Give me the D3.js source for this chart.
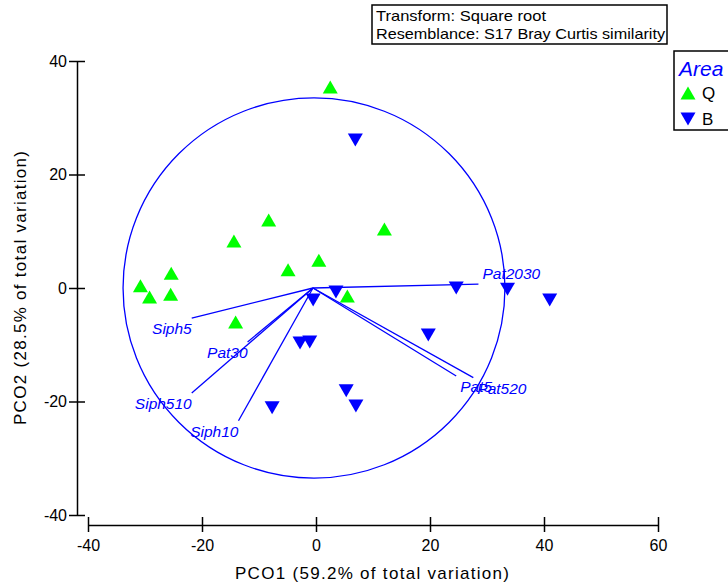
<!DOCTYPE html>
<html>
<head>
<meta charset="utf-8">
<script src="https://cdn.jsdelivr.net/npm/d3@7"></script>
<style>
  body { margin: 0; background: white; }
  svg { font-family: "Liberation Sans", Arial, sans-serif; }
</style>
</head>
<body>
<div id="chart"></div>
<script>
// group Q (green, up triangles)
var qX = [2.5, -8.3, -14.4, 12.0, 0.5, -4.9, -25.4, -30.8, -29.2, -25.5, -14.1, 5.5];
var qY = [35.4, 12.0, 8.3, 10.4, 4.9, 3.2, 2.6, 0.4, -1.6, -1.1, -6.0, -1.4];
// group B (blue, down triangles)
var bX = [6.9, -0.5, 3.5, 24.6, 33.6, 41.0, 19.7, -2.8, -1.1, 5.3, 7.0, -7.7];
var bY = [26.1, -2.1, -0.7, 0.0, -0.2, -2.1, -8.3, -9.7, -9.5, -18.1, -20.8, -21.1];
// vector overlay
var vecNames = ['Pat2030', 'Pat5', 'Pat520', 'Siph5', 'Pat30', 'Siph510', 'Siph10'];
var vecX = [28.5, 24.6, 27.6, -21.8, -12.0, -21.8, -13.6];
var vecY = [0.7, -15.5, -15.8, -5.3, -9.5, -18.5, -23.4];
var circleR = 33.5;
var xTicks = [-40, -20, 0, 20, 40, 60];
var yTicks = [-40, -20, 0, 20, 40];
var groups = ['Q', 'B'];

var width = 728;
var height = 585;
var svg = d3.select('#chart').append('svg')
    .attr('width', width)
    .attr('height', height);

var xScale = d3.scaleLinear().domain([-40, 60]).range([88, 658]);
var yScale = d3.scaleLinear().domain([-40, 40]).range([515, 61]);
var blue = '#0000ff';
var green = '#00ff00';

// axes, ticks crossing the line
var xAxis = d3.axisBottom(xScale).tickValues(xTicks).tickSize(0).tickFormat(d => String(d));
var gx = svg.append('g')
    .attr('transform', 'translate(0,525)')
    .call(xAxis);
gx.select('.domain').attr('stroke', 'black').attr('stroke-width', 1.5);
gx.selectAll('.tick line').attr('y1', -8).attr('y2', 7).attr('stroke', 'black').attr('stroke-width', 1.5);
gx.selectAll('.tick text').attr('y', 15).attr('font-size', 16).attr('fill', 'black')
    .attr('font-family', '"Liberation Sans", Arial, sans-serif');

var yAxis = d3.axisLeft(yScale).tickValues(yTicks).tickSize(0).tickFormat(d => String(d));
var gy = svg.append('g')
    .attr('transform', 'translate(77,0)')
    .call(yAxis);
gy.select('.domain').attr('stroke', 'black').attr('stroke-width', 1.5);
gy.selectAll('.tick line').attr('x1', -8).attr('x2', 8).attr('stroke', 'black').attr('stroke-width', 1.5);
gy.selectAll('.tick text').attr('x', -10).attr('font-size', 16).attr('fill', 'black')
    .attr('font-family', '"Liberation Sans", Arial, sans-serif');

svg.append('text')
    .attr('x', 372).attr('y', 579)
    .attr('text-anchor', 'middle')
    .attr('font-size', 17)
    .attr('textLength', 274).attr('lengthAdjust', 'spacing')
    .text('PCO1 (59.2% of total variation)');

svg.append('text')
    .attr('transform', 'translate(26,288)rotate(-90)')
    .attr('text-anchor', 'middle')
    .attr('font-size', 17)
    .attr('textLength', 274).attr('lengthAdjust', 'spacing')
    .text('PCO2 (28.5% of total variation)');

// correlation circle
svg.append('ellipse')
    .attr('cx', xScale(0) - 2).attr('cy', yScale(0))
    .attr('rx', xScale(circleR) - xScale(0))
    .attr('ry', yScale(0) - yScale(circleR))
    .attr('fill', 'none')
    .attr('stroke', blue)
    .attr('stroke-width', 1.3);

// points
function tri(up) {
    var s = 7.5, h = 13;
    return up
        ? `M0,${-h / 2}L${s},${h / 2}L${-s},${h / 2}Z`
        : `M0,${h / 2}L${s},${-h / 2}L${-s},${-h / 2}Z`;
}

svg.selectAll('path.q').data(qX).enter()
    .append('path')
    .attr('class', 'q')
    .attr('d', tri(true))
    .attr('fill', green)
    .attr('transform', (d, i) => `translate(${xScale(d)},${yScale(qY[i])})`);

svg.selectAll('path.b').data(bX).enter()
    .append('path')
    .attr('class', 'b')
    .attr('d', tri(false))
    .attr('fill', blue)
    .attr('transform', (d, i) => `translate(${xScale(d)},${yScale(bY[i])})`);

// vectors
var vecs = svg.selectAll('g.vec').data(vecNames).enter().append('g').attr('class', 'vec');
vecs.append('line')
    .attr('x1', xScale(0) - 3).attr('y1', yScale(0))
    .attr('x2', (d, i) => xScale(vecX[i]))
    .attr('y2', (d, i) => yScale(vecY[i]))
    .attr('stroke', blue)
    .attr('stroke-width', 1.3);
vecs.append('text')
    .text(d => d)
    .attr('x', (d, i) => xScale(vecX[i]) + (vecX[i] < 0 ? 0 : 4))
    .attr('y', (d, i) => yScale(vecY[i]) + (vecY[i] < -3 ? 16 : -5))
    .attr('text-anchor', (d, i) => vecX[i] < 0 ? 'end' : 'start')
    .attr('font-size', 15.5)
    .attr('font-style', 'italic')
    .attr('fill', blue);

// info box
svg.append('rect')
    .attr('x', 372).attr('y', 5).attr('width', 295).attr('height', 39)
    .attr('fill', 'white').attr('stroke', 'black').attr('stroke-width', 1.5);
svg.append('text').attr('x', 376).attr('y', 21).attr('font-size', 14.5)
    .attr('textLength', 170).attr('lengthAdjust', 'spacingAndGlyphs')
    .text('Transform: Square root');
svg.append('text').attr('x', 376).attr('y', 39).attr('font-size', 14.5)
    .attr('textLength', 289).attr('lengthAdjust', 'spacingAndGlyphs')
    .text('Resemblance: S17 Bray Curtis similarity');

// legend
svg.append('rect')
    .attr('x', 674).attr('y', 51).attr('width', 70).attr('height', 79)
    .attr('fill', 'white').attr('stroke', 'black').attr('stroke-width', 1.5);
svg.append('text').attr('x', 679).attr('y', 76)
    .attr('font-size', 21).attr('font-style', 'italic').attr('fill', blue)
    .text('Area');
var leg = svg.selectAll('g.leg').data(groups).enter().append('g').attr('class', 'leg')
    .attr('transform', (d, i) => `translate(688,${93 + i * 26})`);
leg.append('path')
    .attr('d', (d, i) => tri(i === 0))
    .attr('fill', (d, i) => i === 0 ? green : blue);
leg.append('text').attr('x', 14).attr('y', 6).attr('font-size', 17).text(d => d);
</script>
</body>
</html>
